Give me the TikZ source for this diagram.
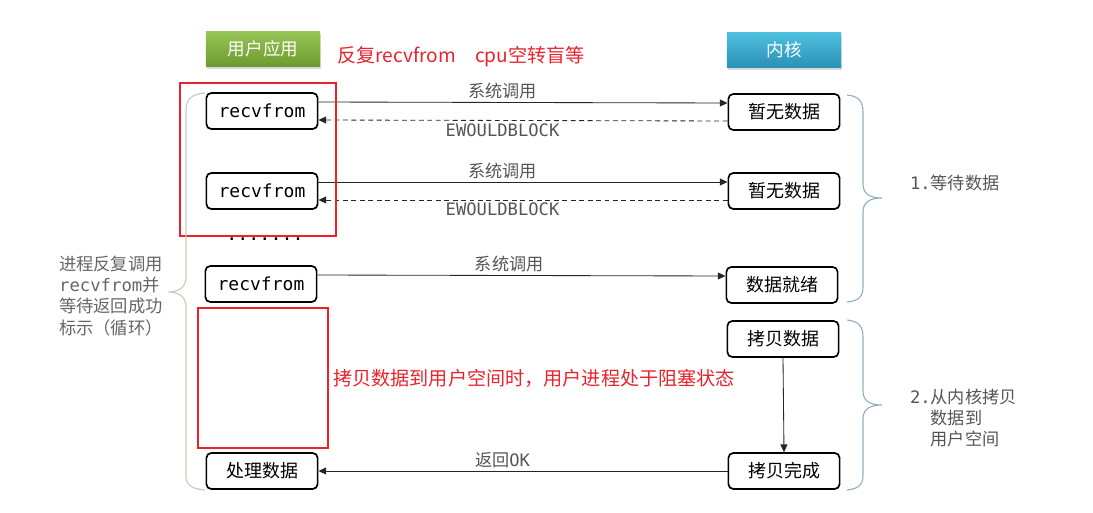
\documentclass[tikz,border=0pt]{standalone}
\usepackage{fontspec}
\setmainfont{Noto Sans CJK SC}
\setmonofont{DejaVu Sans Mono}
\usetikzlibrary{arrows.meta,shadows}

\definecolor{redmark}{HTML}{E8232B}
\definecolor{labelgray}{HTML}{555555}
\definecolor{bracegray}{HTML}{CACAB6}
\definecolor{braceblue}{HTML}{8DB1C1}
\definecolor{apptop}{HTML}{98C455}
\definecolor{appbot}{HTML}{6B9A2E}
\definecolor{kerntop}{HTML}{4FC0E0}
\definecolor{kernbot}{HTML}{2A90B6}

\tikzset{
  stepbox/.style={draw=black, line width=1.2pt, rounded corners=3.5pt, fill=white,
    minimum width=2.78cm, minimum height=0.9cm, inner sep=0pt,
    font=\fontsize{12.8}{15}\selectfont},
  headbar/.style={minimum width=2.85cm, minimum height=0.87cm, text=white,
    font=\fontsize{12.5}{15}\selectfont,
    drop shadow={shadow xshift=1pt, shadow yshift=-1.5pt, opacity=0.3}},
  call/.style={-{Triangle[length=5.5pt,width=5pt]}, line width=0.6pt, draw=black!85},
  reply/.style={call, dash pattern=on 3.5pt off 2.5pt},
  lbl/.style={text=labelgray, font=\fontsize{12.2}{14}\selectfont, inner sep=2pt},
  redtext/.style={text=redmark, font=\fontsize{13.6}{16}\selectfont, inner sep=0pt},
  redbox/.style={draw=redmark, line width=2.1pt},
}

\begin{document}
\begin{tikzpicture}[x=0.025cm, y=-0.025cm]
  \useasboundingbox (0,0) rectangle (1093,513);

  % column headers
  \node[headbar, top color=apptop, bottom color=appbot] (app) at (263,49) {用户应用};
  \node[headbar, top color=kerntop, bottom color=kernbot] (kern) at (784,50) {内核};
  \node[redtext, anchor=west] (note1) at (337,57) {反复recvfrom\quad cpu空转盲等};

  % user side
  \node[stepbox] (r1) at (262,111) {\texttt{recvfrom}};
  \node[stepbox] (r2) at (262,191) {\texttt{recvfrom}};
  \node[stepbox] (r3) at (261,284) {\texttt{recvfrom}};
  \node[stepbox] (use) at (262,471) {处理数据};
  \node[anchor=base, font=\fontsize{13}{15}\ttfamily] (dots) at (265,240) {.......};

  % kernel side
  \node[stepbox] (k1) at (784,112) {暂无数据};
  \node[stepbox] (k2) at (784,191) {暂无数据};
  \node[stepbox] (k3) at (782,285) {数据就绪};
  \node[stepbox] (k4) at (783,339) {拷贝数据};
  \node[stepbox] (k5) at (784,471) {拷贝完成};

  % calls and replies
  \draw[call] ([yshift=6.4pt]r1.east) -- node[lbl, above, pos=0.45] {系统调用} ([yshift=6.4pt]k1.west);
  \draw[reply] ([yshift=-6.4pt]k1.west) -- node[lbl, below, pos=0.55] {\texttt{EWOULDBLOCK}} ([yshift=-6.4pt]r1.east);
  \draw[call] ([yshift=6.4pt]r2.east) -- node[lbl, above, pos=0.45] {系统调用} ([yshift=6.4pt]k2.west);
  \draw[reply] ([yshift=-6.4pt]k2.west) -- node[lbl, below, pos=0.55] {\texttt{EWOULDBLOCK}} ([yshift=-6.4pt]r2.east);
  \draw[call] ([yshift=6.4pt]r3.east) -- node[lbl, above, pos=0.47] {系统调用} ([yshift=6.4pt]k3.west);
  \draw[call] (k4.south) -- (k5.north);
  \draw[call] (k5.west) -- node[lbl, above, pos=0.55] {返回\texttt{OK}} (use.east);

  % red marks
  \draw[redbox] (180,83) rectangle (336,236);
  \draw[redbox] (198,308) rectangle (328,448);
  \node[redtext, anchor=west] (note2) at (333,378) {拷贝数据到用户空间时，用户进程处于阻塞状态};

  % braces
  \draw[bracegray, line width=0.8pt] (205,93) .. controls (192,94) and (186,99) .. (186,110)
    -- (186,277) .. controls (186,287) and (179,292) .. (168,292)
    .. controls (179,292) and (186,297) .. (186,307)
    -- (186,476) .. controls (186,485) and (192,489) .. (205,490);
  \draw[braceblue, line width=0.8pt] (847,95) .. controls (858,96) and (863,101) .. (863,112)
    -- (863,184) .. controls (863,194) and (870,198) .. (882,198)
    .. controls (870,198) and (863,202) .. (863,212)
    -- (863,287) .. controls (863,297) and (858,301) .. (847,302);
  \draw[braceblue, line width=0.8pt] (847,320) .. controls (858,321) and (863,326) .. (863,337)
    -- (863,391) .. controls (863,401) and (870,405) .. (882,405)
    .. controls (870,405) and (863,409) .. (863,419)
    -- (863,475) .. controls (863,485) and (858,489) .. (847,490);

  % side notes
  \node[lbl, anchor=west, align=left, text=black!60, font=\fontsize{12.3}{15}\selectfont] (loop) at (56,296)
    {进程反复调用\\\texttt{recvfrom}并\\等待返回成功\\标示（循环）};
  \node[lbl, anchor=west] (phase1) at (907,183) {\texttt{1.}等待数据};
  \node[lbl, anchor=west, align=left, font=\fontsize{12.2}{15}\selectfont] (phase2) at (907,418)
    {\texttt{2.}从内核拷贝\\\hphantom{\texttt{2.}}数据到\\\hphantom{\texttt{2.}}用户空间};
\end{tikzpicture}
\end{document}
